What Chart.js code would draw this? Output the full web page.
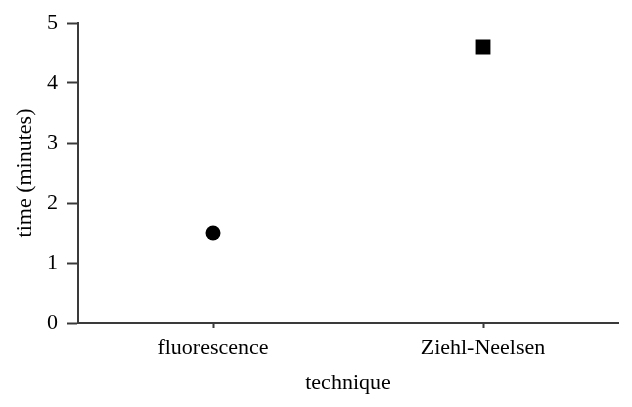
<!DOCTYPE html>
<html>
<head>
<meta charset="utf-8">
<script src="https://cdn.jsdelivr.net/npm/chart.js@4"></script>
<style>
  html, body { margin: 0; padding: 0; background: #fff; }
  #wrap { width: 632px; height: 407px; }
</style>
</head>
<body>
<div id="wrap"><canvas id="timeChart"></canvas></div>
<script>
// Gemeten tijden per techniek
const techniques = ["fluorescence", "Ziehl-Neelsen"];
const times = [1.5, 4.6];
const markers = ["circle", "rect"];
const yTicks = [0, 1, 2, 3, 4, 5];

const font = { family: "'Liberation Serif', 'Times New Roman', serif", size: 22 };
const axisColor = "#3a3a3a";

const ctx = document.getElementById("timeChart").getContext("2d");
new Chart(ctx, {
    type: "line",
    data: {
        labels: techniques,
        datasets: [
            {
                label: "time",
                data: times,
                showLine: false,
                pointStyle: markers,
                pointRadius: [7.5, 10.5],
                pointHoverRadius: [7.5, 10.5],
                pointBorderWidth: 0,
                pointBackgroundColor: "#000",
                borderColor: "#000"
            }
        ]
    },
    options: {
        responsive: true,
        maintainAspectRatio: false,
        animation: false,
        layout: { padding: { top: 23, right: 14, left: 0, bottom: 0 } },
        plugins: {
            legend: { display: false },
            tooltip: { enabled: false }
        },
        scales: {
            x: {
                type: "category",
                offset: true,
                grid: { drawOnChartArea: false, drawTicks: true, tickLength: 5, tickColor: axisColor, tickWidth: 2 },
                border: { color: axisColor, width: 2 },
                ticks: { color: "#000", font: font, padding: 7 },
                title: { display: true, text: "technique", color: "#000", font: font, padding: { top: 4, bottom: 11 } },
                afterFit: scale => { scale.height = 84; }
            },
            y: {
                min: 0,
                max: 5,
                afterBuildTicks: scale => { scale.ticks = yTicks.map(v => ({ value: v })); },
                grid: { drawOnChartArea: false, drawTicks: true, tickLength: 11, tickColor: axisColor, tickWidth: 2 },
                border: { color: axisColor, width: 2 },
                ticks: { color: "#000", font: font, padding: 9 },
                title: { display: true, text: "time (minutes)", color: "#000", font: font, padding: { top: 12 } },
                afterFit: scale => { scale.width = 78; }
            }
        }
    }
});
</script>
</body>
</html>
